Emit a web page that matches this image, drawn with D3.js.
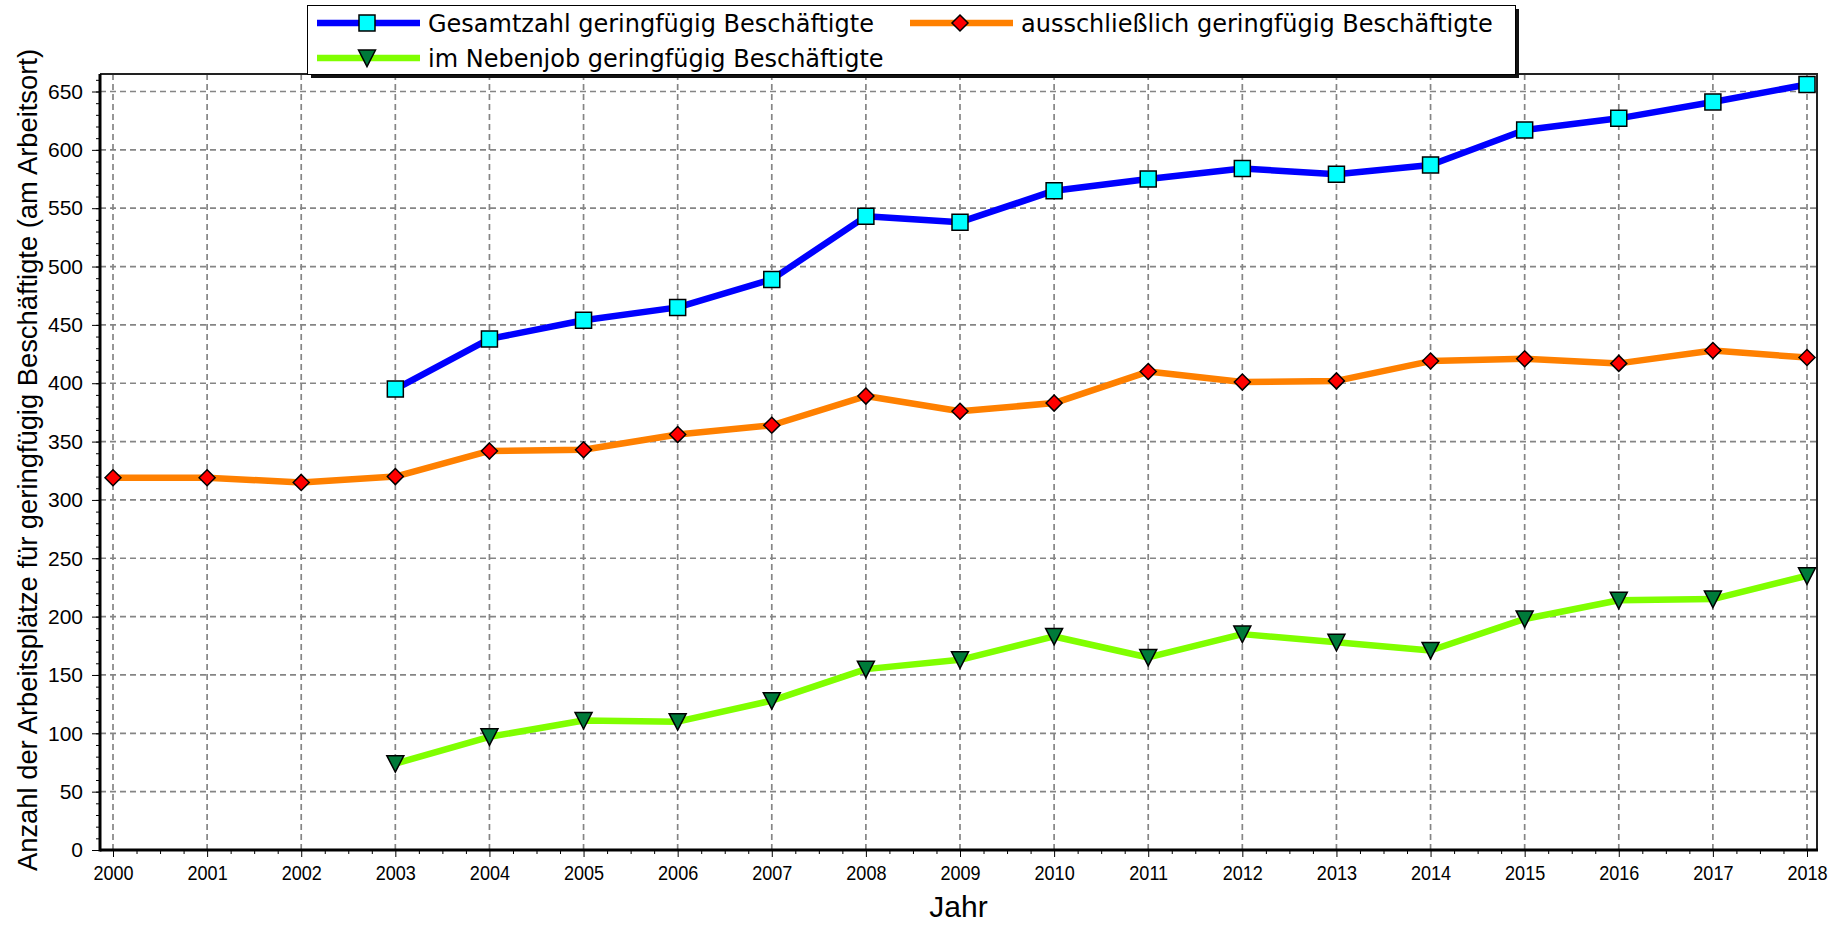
<!DOCTYPE html>
<html>
<head>
<meta charset="utf-8">
<script src="https://cdn.jsdelivr.net/npm/d3@7"></script>
<style>
  body { margin: 0; background: #fff; }
  svg { display: block; }
</style>
</head>
<body>
<div id="chart"></div>
<script>
// values
var years = [2000, 2001, 2002, 2003, 2004, 2005, 2006, 2007, 2008, 2009,
             2010, 2011, 2012, 2013, 2014, 2015, 2016, 2017, 2018];
var gesamt = [null, null, null, 395, 438, 454, 465, 489, 543, 538,
              565, 575, 584, 579, 587, 617, 627, 641, 656];
var ausschl = [319, 319, 315, 320, 342, 343, 356, 364, 389, 376,
               383, 410, 401, 402, 419, 421, 417, 428, 422];
var neben = [null, null, null, 74, 97, 111, 110, 128, 155, 163,
             183, 165, 185, 178, 171, 198, 214, 215, 235];
var yTicks = [0, 50, 100, 150, 200, 250, 300, 350, 400, 450, 500, 550, 600, 650];
var seriesNames = ["Gesamtzahl geringfügig Beschäftigte",
                   "ausschließlich geringfügig Beschäftigte",
                   "im Nebenjob geringfügig Beschäftigte"];

var W = 1841, H = 927;
var frame = {left: 100, right: 1817, top: 74, bottom: 850};

var svg = d3.select("#chart").append("svg")
    .attr("width", W)
    .attr("height", H);

var x = d3.scaleLinear().domain([2000, 2018]).range([113, 1807]);
var y = d3.scaleLinear().domain([0, 665]).range([frame.bottom, frame.top]);

// dashed grid
var grid = svg.append("g")
    .attr("stroke", "#858585")
    .attr("stroke-width", 1.7)
    .attr("stroke-dasharray", "6,4");

grid.selectAll(".gy").data(yTicks.slice(1)).enter().append("line")
    .attr("x1", frame.left).attr("x2", frame.right)
    .attr("y1", function(d){ return y(d); })
    .attr("y2", function(d){ return y(d); });

grid.selectAll(".gx").data(years).enter().append("line")
    .attr("x1", function(d){ return x(d); })
    .attr("x2", function(d){ return x(d); })
    .attr("y1", frame.top).attr("y2", frame.bottom);

// frame (top and right)
svg.append("path")
    .attr("d", "M" + frame.left + "," + frame.top + "H" + frame.right + "V" + frame.bottom)
    .attr("fill", "none")
    .attr("stroke", "#222")
    .attr("stroke-width", 2);

// lines
var series = [
    {name: seriesNames[0], values: gesamt, line: "#0000ff", fill: "#00ffff", shape: "square"},
    {name: seriesNames[1], values: ausschl, line: "#ff8000", fill: "#ff0000", shape: "diamond"},
    {name: seriesNames[2], values: neben, line: "#80ff00", fill: "#007a3a", shape: "triangle"}
];

var line = d3.line()
    .defined(function(d){ return d[1] != null; })
    .x(function(d){ return x(d[0]); })
    .y(function(d){ return y(d[1]); });

function markerPath(shape){
    if (shape == "square") return "M-8,-8H8V8H-8Z";
    if (shape == "diamond") return "M0,-8L8,0L0,8L-8,0Z";
    return "M-8.5,-8H8.5L0,8.5Z";
}

series.forEach(function(s){
    var pts = years.map(function(yr, i){ return [yr, s.values[i]]; });
    svg.append("path")
        .attr("d", line(pts))
        .attr("fill", "none")
        .attr("stroke", s.line)
        .attr("stroke-width", 6.5)
        .attr("stroke-linejoin", "round");
});

series.forEach(function(s){
    var pts = years.map(function(yr, i){ return [yr, s.values[i]]; })
                   .filter(function(d){ return d[1] != null; });
    svg.append("g").selectAll("path").data(pts).enter().append("path")
        .attr("transform", function(d){ return "translate(" + x(d[0]) + "," + y(d[1]) + ")"; })
        .attr("d", markerPath(s.shape))
        .attr("fill", s.fill)
        .attr("stroke", "#000")
        .attr("stroke-width", 1.5);
});

// y axis
var yMinor = svg.append("g")
    .attr("transform", "translate(" + frame.left + ",0)")
    .call(d3.axisLeft(y).tickValues(d3.range(0, 661, 10)).tickSize(4).tickFormat(""));
yMinor.select(".domain").remove();

var yAxis = svg.append("g")
    .attr("transform", "translate(" + frame.left + ",0)")
    .call(d3.axisLeft(y).tickValues(yTicks).tickSize(8).tickPadding(9));
yAxis.select(".domain").remove();
yAxis.selectAll("text")
    .style("font-family", "'Liberation Sans', Arial, sans-serif")
    .style("font-size", "21px")
    .attr("fill", "#000");

// x axis
var minorYears = [];
years.slice(0, -1).forEach(function(yr){ minorYears.push(yr + 0.25, yr + 0.5, yr + 0.75); });

var xMinor = svg.append("g")
    .attr("transform", "translate(0," + y(0) + ")")
    .call(d3.axisBottom(x).tickValues(minorYears).tickSize(4).tickFormat(""));
xMinor.select(".domain").remove();

var xAxis = svg.append("g")
    .attr("transform", "translate(0," + y(0) + ")")
    .call(d3.axisBottom(x).tickValues(years).tickFormat(d3.format("d")).tickSize(7).tickPadding(8));
xAxis.select(".domain").remove();
xAxis.selectAll("text")
    .style("font-family", "'Liberation Sans', Arial, sans-serif")
    .style("font-size", "21px")
    .attr("fill", "#000")
    .attr("transform", "scale(0.86,1)");

// thick axis lines
svg.append("line")
    .attr("x1", frame.left).attr("x2", frame.left)
    .attr("y1", frame.top).attr("y2", frame.bottom + 1.5)
    .attr("stroke", "#000").attr("stroke-width", 3);
svg.append("line")
    .attr("x1", frame.left).attr("x2", frame.right + 1)
    .attr("y1", y(0)).attr("y2", y(0))
    .attr("stroke", "#000").attr("stroke-width", 3);

// axis titles
svg.append("text")
    .attr("transform", "translate(37,460) rotate(-90)")
    .attr("text-anchor", "middle")
    .style("font-family", "'Liberation Sans', Arial, sans-serif")
    .style("font-size", "27px")
    .attr("textLength", 822)
    .attr("lengthAdjust", "spacingAndGlyphs")
    .text("Anzahl der Arbeitsplätze für geringfügig Beschäftigte (am Arbeitsort)");

svg.append("text")
    .attr("x", (frame.left + frame.right) / 2)
    .attr("y", 917)
    .attr("text-anchor", "middle")
    .style("font-family", "'Liberation Sans', Arial, sans-serif")
    .style("font-size", "30px")
    .text("Jahr");

// legend
var lg = svg.append("g");
lg.append("rect")
    .attr("x", 311).attr("y", 9).attr("width", 1208).attr("height", 69)
    .attr("fill", "#111");
lg.append("rect")
    .attr("x", 307.5).attr("y", 5.5).attr("width", 1208).attr("height", 69)
    .attr("fill", "#fff").attr("stroke", "#000").attr("stroke-width", 1);

var legendPos = [
    {x: 317, y: 23},
    {x: 910, y: 23},
    {x: 317, y: 58}
];

series.forEach(function(s, i){
    var p = legendPos[i];
    var item = lg.append("g").attr("transform", "translate(" + p.x + "," + p.y + ")");
    item.append("line")
        .attr("x1", 0).attr("x2", 103)
        .attr("stroke", s.line).attr("stroke-width", 6.5);
    item.append("path")
        .attr("transform", "translate(50,0)")
        .attr("d", markerPath(s.shape))
        .attr("fill", s.fill)
        .attr("stroke", "#000")
        .attr("stroke-width", 1.5);
    item.append("text")
        .attr("x", 111)
        .attr("y", 9)
        .style("font-family", "'DejaVu Sans', Verdana, sans-serif")
        .style("font-size", "24px")
        .text(s.name);
});
</script>
</body>
</html>
